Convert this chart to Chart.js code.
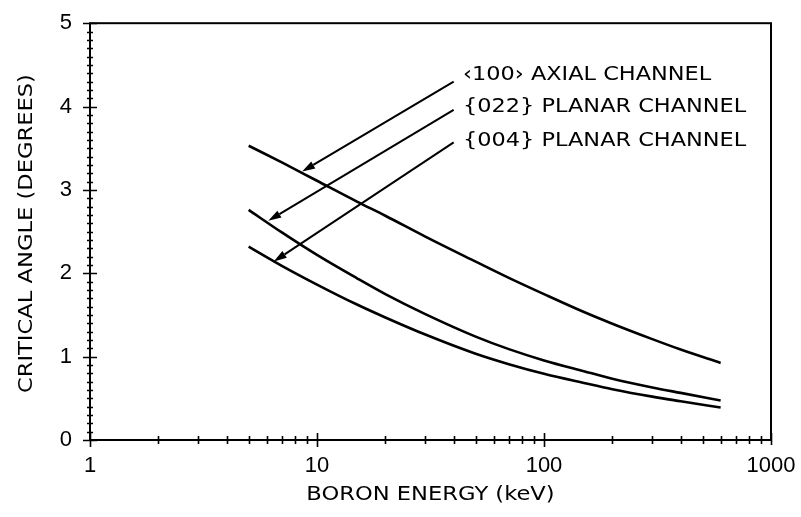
<!DOCTYPE html>
<html>
<head>
<meta charset="utf-8">
<script src="https://cdn.jsdelivr.net/npm/chart.js@4"></script>
<style>
  html, body { margin: 0; padding: 0; background: #fff; }
  #wrap { width: 801px; height: 517px; }
</style>
</head>
<body>
<div id="wrap"><canvas id="chart" width="801" height="517"></canvas></div>
<script>
// boron energy (keV) and critical angle (degrees) for each channel
const energies   = [5, 7, 10, 15, 20, 30, 50, 70, 100, 150, 200, 300, 400, 600];
const axial100   = [3.53, 3.33, 3.11, 2.86, 2.69, 2.44, 2.14, 1.945, 1.75, 1.535, 1.395, 1.21, 1.085, 0.925];
const planar022  = [2.76, 2.49, 2.22, 1.94, 1.75, 1.51, 1.24, 1.09, 0.955, 0.825, 0.735, 0.63, 0.565, 0.475];
const planar004  = [2.32, 2.09, 1.865, 1.625, 1.47, 1.265, 1.035, 0.91, 0.795, 0.685, 0.61, 0.52, 0.465, 0.39];

const xTickLabels = [1, 10, 100, 1000];
const yTickLabels = [0, 1, 2, 3, 4, 5];

// callout text with arrows, all in data units (keV, degrees)
const channelLabels = ['\u2039100\u203A AXIAL CHANNEL', '{022} PLANAR CHANNEL', '{004} PLANAR CHANNEL'];
const labelAnchors  = [[44, 4.32], [44, 3.93], [44, 3.53]];
const arrowTails    = [[40, 4.30], [40, 3.96], [40, 3.57]];
const arrowHeads    = [[8.6, 3.22], [6.1, 2.63], [6.45, 2.14]];

const xTitle = 'BORON ENERGY (keV)';
const yTitle = 'CRITICAL ANGLE (DEGREES)';

const toPoints = ys => energies.map((e, i) => ({ x: e, y: ys[i] }));

function curve(ys) {
  return {
    data: toPoints(ys),
    borderColor: '#000',
    borderWidth: 2.6,
    pointRadius: 0,
    fill: false,
    cubicInterpolationMode: 'monotone'
  };
}

// wide lettering: draw text stretched along its own baseline
function wideText(ctx, text, x, y, stretch) {
  ctx.save();
  ctx.translate(x, y);
  ctx.scale(stretch, 1);
  ctx.fillText(text, 0, 0);
  ctx.restore();
}

const frameAndNotes = {
  id: 'frameAndNotes',
  afterDraw(chart) {
    const ctx = chart.ctx;
    const xs = chart.scales.x, ys = chart.scales.y;
    const { left, right, top, bottom } = chart.chartArea;
    ctx.save();
    ctx.strokeStyle = '#000';
    ctx.fillStyle = '#000';

    // box round the plot
    ctx.lineWidth = 2;
    ctx.strokeRect(left, top, right - left, bottom - top);

    // y ticks: crosses every 0.1, longer at whole degrees
    ctx.lineWidth = 1.6;
    ctx.beginPath();
    for (let i = 0; i <= 50; i++) {
      const py = Math.round(ys.getPixelForValue(i / 10)) + 0.5;
      const len = i % 10 === 0 ? 7 : 3;
      ctx.moveTo(left - len, py);
      ctx.lineTo(left + len, py);
    }
    // x ticks: 1..9 per decade
    for (const dec of [1, 10, 100]) {
      for (let m = 1; m <= 9; m++) {
        const px = Math.round(xs.getPixelForValue(m * dec)) + 0.5;
        const len = m === 1 ? 7 : 4;
        ctx.moveTo(px, bottom - len);
        ctx.lineTo(px, bottom + len);
      }
    }
    const pEnd = Math.round(xs.getPixelForValue(1000)) + 0.5;
    ctx.moveTo(pEnd, bottom - 7);
    ctx.lineTo(pEnd, bottom + 5);
    ctx.stroke();

    // axis titles
    ctx.font = '20px "DejaVu Sans"';
    ctx.textAlign = 'center';
    ctx.textBaseline = 'middle';
    wideText(ctx, xTitle, (left + right) / 2, 495, 1.13);
    ctx.save();
    ctx.translate(27, (top + bottom) / 2 + 2);
    ctx.rotate(-Math.PI / 2);
    wideText(ctx, yTitle, 0, 0, 1.13);
    ctx.restore();

    // channel callouts
    ctx.font = '19px "DejaVu Sans"';
    ctx.textAlign = 'left';
    ctx.textBaseline = 'alphabetic';
    channelLabels.forEach((t, i) => {
      const [e, a] = labelAnchors[i];
      wideText(ctx, t, xs.getPixelForValue(e), ys.getPixelForValue(a), 1.18);
    });

    ctx.lineWidth = 2;
    arrowTails.forEach((tail, i) => {
      const x0 = xs.getPixelForValue(tail[0]), y0 = ys.getPixelForValue(tail[1]);
      const x1 = xs.getPixelForValue(arrowHeads[i][0]), y1 = ys.getPixelForValue(arrowHeads[i][1]);
      const ang = Math.atan2(y1 - y0, x1 - x0);
      const hl = 13, hw = 4;
      const bx = x1 - hl * Math.cos(ang), by = y1 - hl * Math.sin(ang);
      ctx.beginPath();
      ctx.moveTo(x0, y0);
      ctx.lineTo(bx, by);
      ctx.stroke();
      ctx.beginPath();
      ctx.moveTo(x1, y1);
      ctx.lineTo(bx + hw * Math.sin(ang), by - hw * Math.cos(ang));
      ctx.lineTo(bx - hw * Math.sin(ang), by + hw * Math.cos(ang));
      ctx.closePath();
      ctx.fill();
    });
    ctx.restore();
  }
};

const tickFont = { family: '"Liberation Sans", Arial, sans-serif', size: 22 };

new Chart(document.getElementById('chart'), {
  type: 'line',
  data: { datasets: [curve(axial100), curve(planar022), curve(planar004)] },
  options: {
    responsive: false,
    animation: false,
    devicePixelRatio: 1,
    layout: { padding: { top: 18, right: 30, left: 0, bottom: 0 } },
    plugins: { legend: { display: false }, tooltip: { enabled: false } },
    scales: {
      x: {
        type: 'logarithmic',
        min: 1,
        max: 1000,
        grid: { display: false },
        border: { display: false },
        ticks: {
          autoSkip: false,
          maxRotation: 0,
          padding: 5,
          color: '#000',
          font: tickFont,
          callback: v => xTickLabels.includes(v) ? String(v) : ''
        },
        afterFit: s => { s.height = 77; }
      },
      y: {
        min: 0,
        max: 5,
        grid: { display: false },
        border: { display: false },
        ticks: {
          stepSize: 1,
          padding: 10,
          color: '#000',
          font: tickFont,
          callback: v => yTickLabels.includes(v) ? String(v) : ''
        },
        afterFit: s => { s.width = 90; }
      }
    }
  },
  plugins: [frameAndNotes]
});
</script>
</body>
</html>
